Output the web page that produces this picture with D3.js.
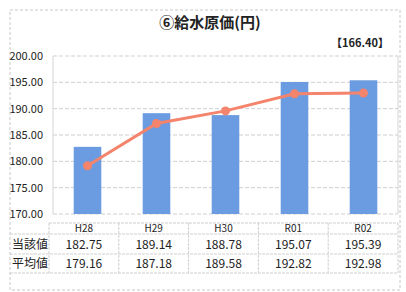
<!DOCTYPE html>
<html>
<head>
<meta charset="utf-8">
<title>給水原価</title>
<script src="https://cdn.jsdelivr.net/npm/d3@7"></script>
<style>
  body { margin: 0; background: #fff; }
  svg text { font-family: "Noto Sans CJK JP", "DejaVu Sans", sans-serif; fill: #222; }
</style>
</head>
<body>
<svg id="chart" width="406" height="292"></svg>
<script>
  var years = ['H28', 'H29', 'H30', 'R01', 'R02'];
  var actual = [182.75, 189.14, 188.78, 195.07, 195.39];
  var average = [179.16, 187.18, 189.58, 192.82, 192.98];
  var yTicks = [170, 175, 180, 185, 190, 195, 200];
  var rowLabels = ['当該値', '平均値'];

  var svg = d3.select('#chart');
  var plot = {left: 53, right: 398, top: 56, bottom: 214};

  // outer frame
  svg.append('rect')
    .attr('x', 10).attr('y', 10).attr('width', 390).attr('height', 280)
    .attr('fill', 'none').attr('stroke', '#c8c8c8').attr('stroke-dasharray', '3,2');

  svg.append('text').attr('x', 210).attr('y', 28)
    .attr('text-anchor', 'middle').attr('font-size', 15).attr('font-weight', 'bold')
    .text('⑥給水原価(円)');
  svg.append('text').attr('x', 389).attr('y', 47)
    .attr('text-anchor', 'end').attr('font-size', 11).attr('font-weight', 'bold')
    .text('【166.40】');

  var x = d3.scaleBand().domain(years).range([plot.left, plot.right]).paddingInner(0.6).paddingOuter(0.3);
  var y = d3.scaleLinear().domain([170, 200]).range([plot.bottom, plot.top]);

  // grid
  svg.append('g').selectAll('line').data(yTicks).join('line')
    .attr('x1', plot.left).attr('x2', plot.right)
    .attr('y1', function(d) { return y(d); }).attr('y2', function(d) { return y(d); })
    .attr('stroke', '#cfcfcf').attr('stroke-dasharray', '4,2');
  svg.append('line').attr('x1', plot.right).attr('x2', plot.right)
    .attr('y1', plot.top).attr('y2', plot.bottom).attr('stroke', '#d5d5d5');
  svg.append('line').attr('x1', plot.left).attr('x2', plot.left)
    .attr('y1', plot.top).attr('y2', plot.bottom).attr('stroke', '#d5d5d5');

  var yAxis = svg.append('g').attr('transform', 'translate(' + (plot.left - 7) + ',0)')
    .call(d3.axisLeft(y).tickValues(yTicks).tickSize(0).tickFormat(d3.format('.2f')));
  yAxis.select('.domain').remove();
  yAxis.selectAll('text').attr('font-size', 11).attr('font-family', '"Noto Sans CJK JP", sans-serif').attr('fill', '#222');

  // bars
  svg.append('g').selectAll('rect').data(actual).join('rect')
    .attr('x', function(d, i) { return x(years[i]); })
    .attr('width', x.bandwidth())
    .attr('y', function(d) { return y(d); })
    .attr('height', function(d) { return y(170) - y(d); })
    .attr('fill', '#6b9be0');

  // average line
  var line = d3.line()
    .x(function(d, i) { return x(years[i]) + x.bandwidth() / 2; })
    .y(function(d) { return y(d); });
  svg.append('path').datum(average).attr('d', line)
    .attr('fill', 'none').attr('stroke', '#f4846c').attr('stroke-width', 3);
  svg.append('g').selectAll('circle').data(average).join('circle')
    .attr('cx', function(d, i) { return x(years[i]) + x.bandwidth() / 2; })
    .attr('cy', function(d) { return y(d); })
    .attr('r', 4.5).attr('fill', '#f4846c');

  // data table
  var tx = d3.scaleBand().domain(years).range([49, 398]);
  var rows = [223, 234, 254, 273];
  var tbl = svg.append('g');
  tbl.selectAll('line.h').data(rows).join('line')
    .attr('x1', function(d, i) { return i === 0 ? 49 : 10; }).attr('x2', 398)
    .attr('y1', function(d) { return d; }).attr('y2', function(d) { return d; })
    .attr('stroke', '#cfcfcf').attr('stroke-dasharray', '3,1');
  tbl.selectAll('line.v').data(years.concat(['end'])).join('line')
    .attr('x1', function(d, i) { return 49 + i * tx.bandwidth(); })
    .attr('x2', function(d, i) { return 49 + i * tx.bandwidth(); })
    .attr('y1', rows[0]).attr('y2', rows[3])
    .attr('stroke', '#cfcfcf').attr('stroke-dasharray', '3,1');

  tbl.selectAll('text.head').data(years).join('text')
    .attr('x', function(d) { return tx(d) + tx.bandwidth() / 2; })
    .attr('y', 232).attr('text-anchor', 'middle').attr('font-size', 10)
    .text(function(d) { return d; });

  [actual, average].forEach(function(series, r) {
    var cy = (rows[r + 1] + rows[r + 2]) / 2 + 4.5;
    tbl.append('text').attr('x', 12).attr('y', cy).attr('font-size', 12).text(rowLabels[r]);
    tbl.selectAll('text.v' + r).data(series).join('text')
      .attr('x', function(d, i) { return tx(years[i]) + tx.bandwidth() / 2; })
      .attr('y', cy).attr('text-anchor', 'middle').attr('font-size', 12)
      .text(function(d) { return d.toFixed(2); });
  });
</script>
</body>
</html>
